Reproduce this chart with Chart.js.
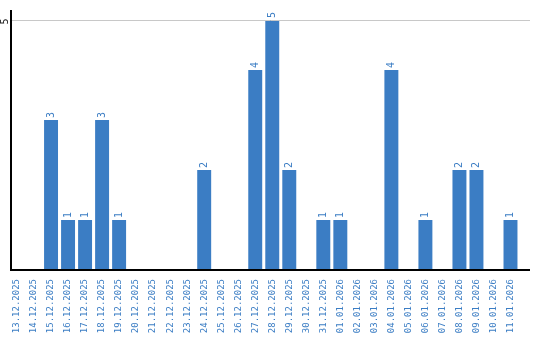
<!DOCTYPE html>
<html><head><meta charset="utf-8">
<script src="https://cdn.jsdelivr.net/npm/chart.js@4/dist/chart.umd.min.js"></script>
<style>html,body{margin:0;padding:0;background:#fff}#wrap{width:540px;height:340px}</style>
</head><body><div id="wrap"><canvas id="c"></canvas></div>
<script>
const categories = ["13.12.2025","14.12.2025","15.12.2025","16.12.2025","17.12.2025","18.12.2025","19.12.2025","20.12.2025","21.12.2025","22.12.2025","23.12.2025","24.12.2025","25.12.2025","26.12.2025","27.12.2025","28.12.2025","29.12.2025","30.12.2025","31.12.2025","01.01.2026","02.01.2026","03.01.2026","04.01.2026","05.01.2026","06.01.2026","07.01.2026","08.01.2026","09.01.2026","10.01.2026","11.01.2026"];
const values = [0,0,3,1,1,3,1,0,0,0,0,2,0,0,4,5,2,0,1,1,0,0,4,0,1,0,2,2,0,1];
const yTicks = [5];

const BLUE = '#3b7dc4';
const FAMILY = '"DejaVu Sans Mono", monospace';
const FONT = '10px ' + FAMILY;

const overlay = {
  id: 'overlay',
  afterDraw(chart) {
    const ctx = chart.ctx, y = chart.scales.y, ca = chart.chartArea;
    const axisX = ca.left + 2.5, rightX = 530;
    ctx.save();
    ctx.strokeStyle = '#c8c8c8'; ctx.lineWidth = 1;
    yTicks.forEach(t => {
      const py = Math.round(y.getPixelForValue(t)) + 0.5;
      ctx.beginPath(); ctx.moveTo(axisX, py); ctx.lineTo(rightX, py); ctx.stroke();
      ctx.save();
      ctx.translate(5, py + 1); ctx.rotate(-Math.PI/2);
      ctx.fillStyle = '#222'; ctx.font = FONT; ctx.textAlign = 'center'; ctx.textBaseline = 'middle';
      ctx.fillText(String(t), 0, 0);
      ctx.restore();
    });
    ctx.strokeStyle = '#000'; ctx.lineWidth = 2;
    ctx.beginPath(); ctx.moveTo(axisX, ca.top); ctx.lineTo(axisX, ca.bottom); ctx.lineTo(rightX, ca.bottom); ctx.stroke();
    const meta = chart.getDatasetMeta(0);
    ctx.fillStyle = BLUE; ctx.font = FONT; ctx.textAlign = 'left'; ctx.textBaseline = 'middle';
    meta.data.forEach((bar, i) => {
      const v = values[i];
      if (!v) return;
      ctx.save();
      ctx.translate(bar.x, bar.y - 2); ctx.rotate(-Math.PI/2);
      ctx.fillText(String(v), 0, 0);
      ctx.restore();
    });
    ctx.restore();
  }
};

new Chart(document.getElementById('c'), {
  type: 'bar',
  data: { labels: categories, datasets: [{ data: values, backgroundColor: BLUE, categoryPercentage: 0.82, barPercentage: 1.0 }] },
  options: {
    responsive: true, maintainAspectRatio: false, animation: false,
    layout: { padding: { top: 10, right: 21, left: 0, bottom: 0 } },
    plugins: { legend: { display: false }, tooltip: { enabled: false } },
    scales: {
      x: {
        grid: { display: false }, border: { display: false },
        ticks: { color: BLUE, font: { family: FAMILY, size: 9 }, minRotation: 90, maxRotation: 90, padding: 1, autoSkip: false },
        afterFit(s) { s.height = 70; }
      },
      y: {
        min: 0, max: 5.2,
        grid: { display: false }, border: { display: false },
        ticks: { display: false },
        afterFit(s) { s.width = 8.5; }
      }
    }
  },
  plugins: [overlay]
});
</script></body></html>
